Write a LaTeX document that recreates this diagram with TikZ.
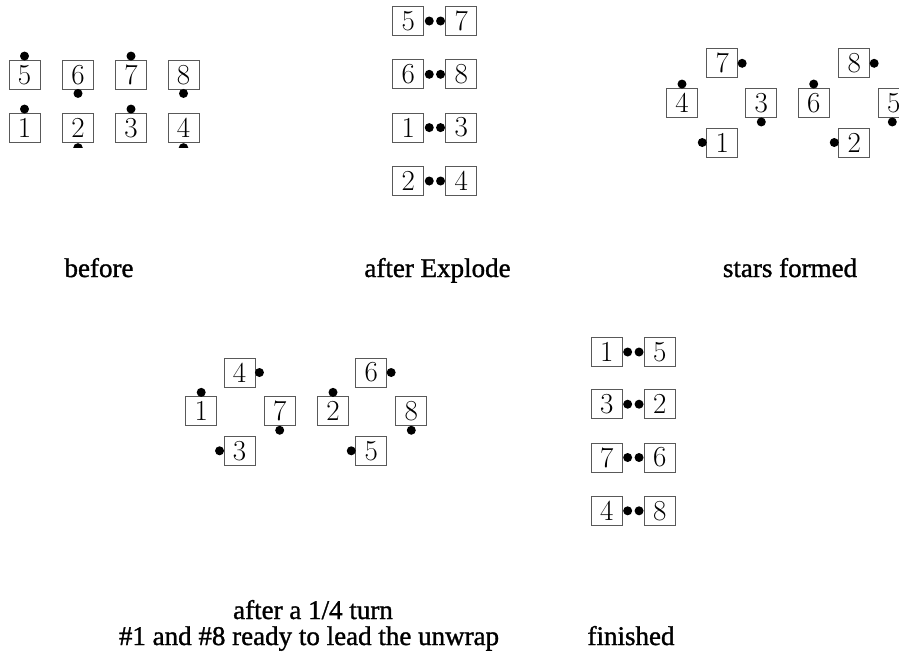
\documentclass[tikz,border=0pt]{standalone}
\usepackage{fontspec}
\newfontfamily\capfont[FakeBold=1.2]{Liberation Serif}
\tikzset{
  x=1pt, y=-1pt,
  numbox/.style={draw=black!65, line width=0.9pt, minimum width=31pt, minimum height=29pt,
    inner sep=0pt, font=\fontsize{29}{30}\selectfont},
  dotn/.style={circle, fill=black, inner sep=0pt, minimum size=9pt},
  captxt/.style={anchor=base, inner sep=0pt, font=\capfont\fontsize{27}{30}\selectfont}
}
\begin{document}
\begin{tikzpicture}
\useasboundingbox (0,0) rectangle (899,656);
% ---------- before ----------
\node[numbox] (a5) at (24.5,75) {5};
\node[numbox] (a6) at (78,75) {6};
\node[numbox] (a7) at (131,75) {7};
\node[numbox] (a8) at (183.5,75) {8};
\node[numbox] (a1) at (24.5,128) {1};
\node[numbox] (a2) at (78,128) {2};
\node[numbox] (a3) at (131,128) {3};
\node[numbox] (a4) at (183.5,128) {4};
\node[dotn] (a5d) at ([yshift=4pt]a5.north) {};
\node[dotn] (a6d) at ([yshift=-3.5pt]a6.south) {};
\node[dotn] (a7d) at ([yshift=4pt]a7.north) {};
\node[dotn] (a8d) at ([yshift=-3.5pt]a8.south) {};
\node[dotn] (a1d) at ([yshift=4pt]a1.north) {};
\node[dotn] (a3d) at ([yshift=4pt]a3.north) {};
\begin{scope}
  \clip ([xshift=-6pt,yshift=3pt]a2.south) rectangle ([xshift=6pt,yshift=-5pt]a2.south);
  \fill ([yshift=-5pt]a2.south) circle[radius=4.8pt];
\end{scope}
\begin{scope}
  \clip ([xshift=-6pt,yshift=3pt]a4.south) rectangle ([xshift=6pt,yshift=-5pt]a4.south);
  \fill ([yshift=-5pt]a4.south) circle[radius=4.8pt];
\end{scope}
\node[captxt] (capa) at (99,277) {before};
% ---------- after Explode ----------
\foreach \l/\r/\yy [count=\i] in {5/7/21, 6/8/74.3, 1/3/127.6, 2/4/181} {
  \node[numbox] (bl\i) at (408.3,\yy) {\l};
  \node[numbox] (br\i) at (461.2,\yy) {\r};
  \node[dotn] (bld\i) at ([xshift=5pt]bl\i.east) {};
  \node[dotn] (brd\i) at ([xshift=-4.7pt]br\i.west) {};
}
\node[captxt] (capb) at (437.5,277) {after Explode};
% ---------- stars formed ----------
\node[numbox] (c7) at (722.2,63.3) {7};
\node[numbox] (c4) at (682,103) {4};
\node[numbox] (c3) at (761.3,103) {3};
\node[numbox] (c1) at (722.2,142.5) {1};
\node[numbox] (c8) at (854.2,63.3) {8};
\node[numbox] (c6) at (813.7,103) {6};
\node[numbox] (c5) at (893.8,103) {5};
\node[numbox] (c2) at (854.2,142.5) {2};
\node[dotn] (c7d) at ([xshift=4pt]c7.east) {};
\node[dotn] (c4d) at ([yshift=4pt]c4.north) {};
\node[dotn] (c3d) at ([yshift=-4pt]c3.south) {};
\node[dotn] (c1d) at ([xshift=-4pt]c1.west) {};
\node[dotn] (c8d) at ([xshift=4pt]c8.east) {};
\node[dotn] (c6d) at ([yshift=4pt]c6.north) {};
\node[dotn] (c5d) at ([xshift=-1.5pt,yshift=-4pt]c5.south) {};
\node[dotn] (c2d) at ([xshift=-4pt]c2.west) {};
\node[captxt] (capc) at (790,277) {stars formed};
% ---------- after a 1/4 turn ----------
\node[numbox] (d4) at (239.5,372.5) {4};
\node[numbox] (d1) at (201.2,411.3) {1};
\node[numbox] (d7) at (279.7,411.3) {7};
\node[numbox] (d3) at (239.5,450.8) {3};
\node[numbox] (d6) at (371.2,372.5) {6};
\node[numbox] (d2) at (333,411.3) {2};
\node[numbox] (d8) at (411.3,411.3) {8};
\node[numbox] (d5) at (371.2,450.8) {5};
\node[dotn] (d4d) at ([xshift=4pt]d4.east) {};
\node[dotn] (d1d) at ([yshift=4pt]d1.north) {};
\node[dotn] (d7d) at ([yshift=-4pt]d7.south) {};
\node[dotn] (d3d) at ([xshift=-4pt]d3.west) {};
\node[dotn] (d6d) at ([xshift=4pt]d6.east) {};
\node[dotn] (d2d) at ([yshift=4pt]d2.north) {};
\node[dotn] (d8d) at ([yshift=-4pt]d8.south) {};
\node[dotn] (d5d) at ([xshift=-4pt]d5.west) {};
\node[captxt] (capd1) at (313,619) {after a 1/4 turn};
\node[captxt] (capd2) at (309,645) {\#1 and \#8 ready to lead the unwrap};
% ---------- finished ----------
\foreach \l/\r/\yy [count=\i] in {1/5/352, 3/2/404.2, 7/6/457.5, 4/8/510.8} {
  \node[numbox] (el\i) at (606.7,\yy) {\l};
  \node[numbox] (er\i) at (659.7,\yy) {\r};
  \node[dotn] (eld\i) at ([xshift=5pt]el\i.east) {};
  \node[dotn] (erd\i) at ([xshift=-4.7pt]er\i.west) {};
}
\node[captxt] (cape) at (631,645) {finished};
\end{tikzpicture}
\end{document}
